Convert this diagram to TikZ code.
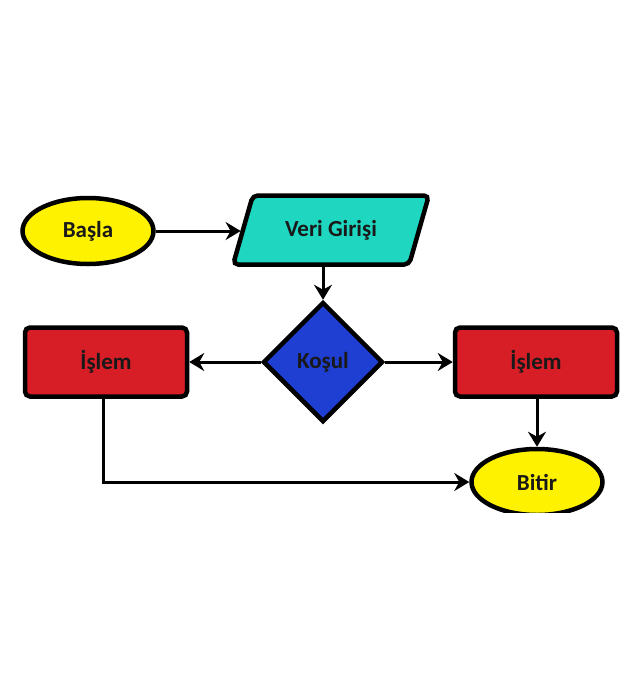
\documentclass[tikz,border=0pt]{standalone}
\usepackage{fontspec}
\setmainfont{Carlito}
\usetikzlibrary{shapes.geometric,arrows.meta}
\definecolor{cyel}{HTML}{FFF200}
\definecolor{cteal}{HTML}{1FD6C1}
\definecolor{cblue}{HTML}{1F3ED2}
\definecolor{cred}{HTML}{D71E27}
\tikzset{
  lbl/.style={font=\fontsize{23}{26}\selectfont\bfseries, text=black!90},
  shp/.style={draw=black, line width=4.5pt, lbl},
  term/.style={shp, ellipse, fill=cyel, minimum width=131pt, minimum height=66pt, inner sep=0pt},
  proc/.style={shp, rectangle, rounded corners=5pt, fill=cred, minimum width=162pt, minimum height=69pt},
  io/.style={shp, trapezium, trapezium left angle=65, trapezium right angle=115, trapezium stretches=true, rounded corners=5pt, fill=cteal, minimum width=196pt, minimum height=69pt},
  cond/.style={shp, diamond, fill=cblue, minimum width=120pt, minimum height=120pt, inner sep=0pt},
  arr/.style={line width=3pt, -{Stealth[length=15pt,width=18pt,inset=5pt]}}
}
\begin{document}
\begin{tikzpicture}[x=1pt,y=-1pt]
\useasboundingbox (0,0) rectangle (631,694);
\fill[white] (0,0) rectangle (631,694);
\node[term] (start) at (88,231) {Başla};
\node[io] (input) at (331,230) {Veri Girişi};
\node[cond] (koşul) at (323,362) {Koşul};
\node[proc] (left) at (106,362) {İşlem};
\node[proc] (right) at (536,362) {İşlem};
\begin{scope}
\clip (0,0) rectangle (631,512);
\node[term] (end) at (537,482) {Bitir};
\end{scope}
\draw[arr] (start.east) -- (input.west |- start.east);
\draw[arr] (input.south -| koşul.north) -- (koşul.north);
\draw[arr] (koşul.west) -- (left.east);
\draw[arr] (koşul.east) -- (right.west);
\draw[arr] (right.south -| end.north) -- (end.north);
\draw[arr] ([xshift=-3pt]left.south) |- (end.west);
\end{tikzpicture}
\end{document}
